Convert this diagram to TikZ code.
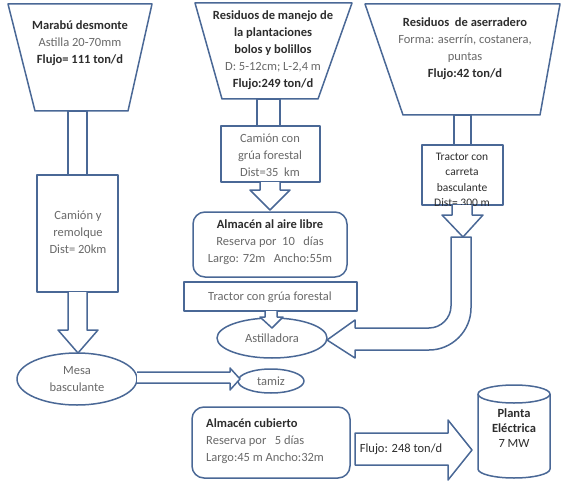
\documentclass[tikz,border=0pt]{standalone}
\usepackage{fontspec}
\setmainfont{Carlito}
\usetikzlibrary{shapes.geometric}
\definecolor{edge}{RGB}{74,104,150}
\definecolor{dark}{RGB}{45,45,45}
\definecolor{soft}{RGB}{105,105,105}
\newcommand{\hd}[1]{{\bfseries\color{dark}#1}}
\tikzset{
  outline/.style={draw=edge, line width=1.5pt, fill=white, line join=round},
  lbl/.style={font=\fontsize{12.5}{17}\selectfont, text=soft, align=center, inner sep=0pt},
  vessel/.style={outline, ellipse, inner sep=0pt}
}
\begin{document}
\begin{tikzpicture}[x=1pt, y=-1pt]
\useasboundingbox (0,0) rectangle (567,484);

\draw[outline] (8,4) -- (152,4) -- (128,111) -- (35,111) -- cycle;
\draw[outline] (195,3) -- (352,3) -- (318,99) -- (222,99) -- cycle;
\draw[outline] (365,4) -- (560,4) -- (540,115) -- (403,115) -- cycle;
\node[lbl] (marabu) at (80,43) {\hd{Marabú desmonte}\\Astilla 20-70mm\\\hd{Flujo= 111 ton/d}};
\node[lbl] (manejo) at (273,50) {\hd{Residuos de manejo de}\\\hd{la plantaciones}\\\hd{bolos y bolillos}\\D: 5-12cm; L-2,4 m\\\hd{Flujo:249 ton/d}};
\node[lbl] (aserr) at (465,49) {\hd{Residuos\ \ de aserradero}\\Forma: aserrín, costanera,\\puntas\\\hd{Flujo:42 ton/d}};

\draw[outline] (68,111) rectangle (87,175);
\draw[outline] (37,175) rectangle (118,292);
\node[lbl] (camion) at (78,232) {Camión y\\remolque\\Dist= 20km};
\draw[outline] (68,292) -- (68,330) -- (58,330) -- (78,353) -- (98,330) -- (87,330) -- (87,292);

\draw[outline] (257,99) rectangle (280,126);
\draw[outline] (221,126) rectangle (320,182);
\node[lbl] (grua) at (270,155) {Camión con\\grúa forestal\\Dist=35\ \ km};
\draw[outline] (260,182) -- (260,190) -- (250,190) -- (270,210) -- (290,190) -- (280,190) -- (280,182);
\draw[outline, rounded corners=12pt] (193,212) rectangle (347,277);
\node[lbl] (aire) at (270,242) {\hd{Almacén al aire libre}\\Reserva por\ \ 10\ \ \ días\\Largo: 72m\ \ \ Ancho:55m};
\draw[outline] (184,282) rectangle (357,311);
\node[lbl] (tractor) at (270,297) {Tractor con grúa forestal};

\draw[outline] (454,115) rectangle (471,145);
\draw[outline] (422,145) rectangle (503,205);
\node[lbl, font=\fontsize{11.5}{15.5}\selectfont, text=dark] (carreta) at (462,180) {Tractor con\\carreta\\basculante\\Dist= 300 m};
\draw[outline] (452,205) -- (452,215) -- (442,215) -- (463,237) -- (483,215) -- (472,215) -- (472,205);
\draw[outline] (451,237) -- (471,237) -- (471,308) .. controls (471,331) and (452,350) .. (429,350)
  -- (355,350) -- (355,358) -- (327,340) -- (355,320) -- (355,328) -- (429,328)
  .. controls (441,328) and (451,318) .. (451,306) -- cycle;

\node[vessel, lbl, minimum width=110pt, minimum height=40pt] (astill) at (272,338) {Astilladora};
\draw[outline] (265,311) -- (265,317) -- (260,317) -- (272,328) -- (283,317) -- (277,317) -- (277,311);

\node[vessel, lbl, minimum width=120pt, minimum height=52pt] (mesa) at (77,379) {Mesa\\basculante};
\node[vessel, lbl, minimum width=66pt, minimum height=24pt] (tamiz) at (271,381) {tamiz};
\draw[outline] (137,372) -- (230,372) -- (230,368) -- (240,379) -- (230,390) -- (230,383) -- (137,383);

\draw[outline, rounded corners=12pt] (192,407) rectangle (350,478);
\node[lbl, align=left, anchor=west] (cubierto) at (206,441) {\hd{Almacén cubierto}\\Reserva por\ \ \ 5\ días\\Largo:45 m Ancho:32m};
\draw[outline] (355,433) -- (448,433) -- (448,420) -- (472,450) -- (448,480) -- (448,465) -- (355,465) -- cycle;
\node[lbl, text=dark] (flujo) at (401,449) {Flujo: 248 ton/d};

\draw[outline] (478,394) -- (478,469) arc[start angle=180, end angle=0, x radius=36, y radius=9] -- (550,394);
\draw[outline] (514,394) ellipse [x radius=36, y radius=9];
\node[lbl, font=\fontsize{12.5}{15}\selectfont\bfseries, text=dark] (planta) at (514,428) {Planta\\Eléctrica\\\mdseries 7 MW};

\end{tikzpicture}
\end{document}
